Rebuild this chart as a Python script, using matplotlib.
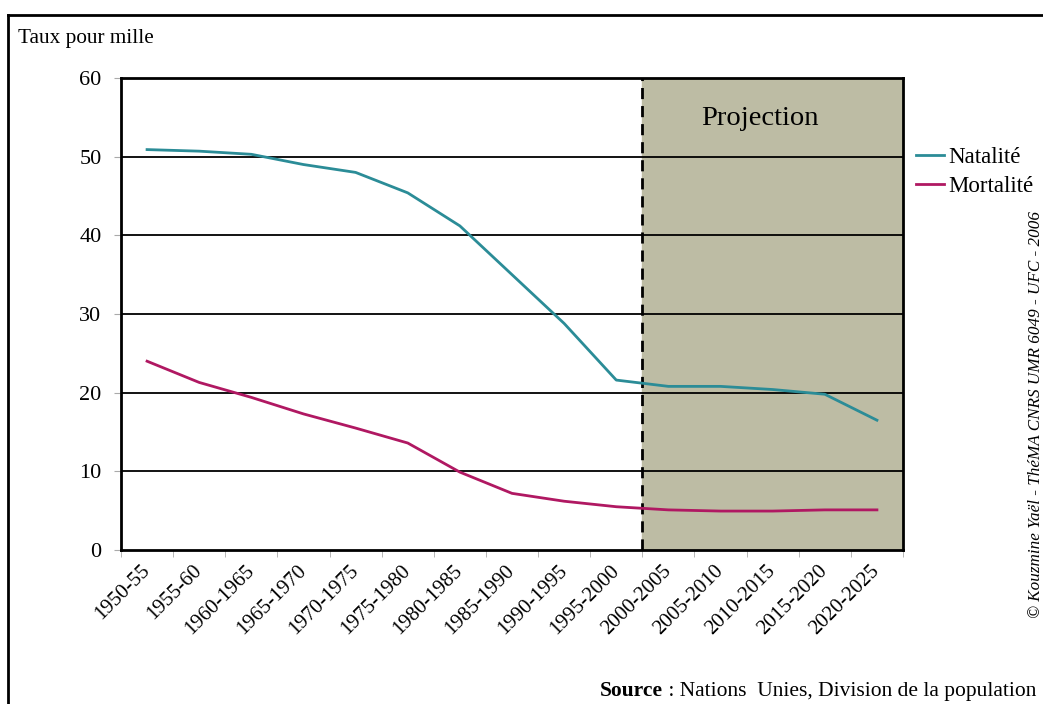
import matplotlib.pyplot as plt
from matplotlib.lines import Line2D

periodes = ["1950-55", "1955-60", "1960-1965", "1965-1970", "1970-1975",
            "1975-1980", "1980-1985", "1985-1990", "1990-1995", "1995-2000",
            "2000-2005", "2005-2010", "2010-2015", "2015-2020", "2020-2025"]
natalite = [50.9, 50.7, 50.3, 49.0, 48.0, 45.4, 41.2, 35.0, 28.8, 21.6,
            20.8, 20.8, 20.4, 19.8, 16.5]
mortalite = [24.0, 21.3, 19.4, 17.3, 15.5, 13.6, 9.9, 7.2, 6.2, 5.5,
             5.1, 4.95, 4.95, 5.1, 5.1]
debut_projection = 10

plt.rcParams['font.family'] = ['Liberation Serif', 'DejaVu Serif']

fig = plt.figure(figsize=(10.43, 7.04), dpi=100)
ax = fig.add_axes([121 / 1043, 1 - 550 / 704, 782 / 1043, 472 / 704])

n = len(periodes)
x = [i + 0.5 for i in range(n)]

# zone de projection
ax.axvspan(debut_projection, n, color="#bdbca4", zorder=0)
ax.axvline(debut_projection, color="black", lw=2, ls=(0, (4, 2.5)), zorder=3)

for yv in range(10, 60, 10):
    ax.axhline(yv, color="black", lw=1.3, zorder=1)

ax.plot(x, natalite, color="#2b8c97", lw=2, label="Natalité", zorder=4)
ax.plot(x, mortalite, color="#b01862", lw=2, label="Mortalité", zorder=4)

ax.set_xlim(0, n)
ax.set_ylim(0, 60)
ax.set_yticks(range(0, 70, 10))
ax.tick_params(axis="y", labelsize=16, length=5, color="#aaaaaa", pad=9)
ax.set_xticks(x)
ax.set_xticklabels(periodes, rotation=45, ha="right", va="center",
                   rotation_mode="anchor", fontsize=15)
ax.tick_params(axis="x", which="major", length=0, pad=13)
ax.set_xticks(range(n + 1), minor=True)
ax.tick_params(axis="x", which="minor", length=5, color="#aaaaaa")

for s in ax.spines.values():
    s.set_linewidth(2)
    s.set_zorder(5)

ax.text(12.25, 54.9, "Projection", fontsize=20.5, ha="center", va="center")

fig.legend(loc="center left", bbox_to_anchor=(905 / 1043, 1 - 172 / 704),
           frameon=False, fontsize=16.5, handlelength=1.2,
           handletextpad=0.2, labelspacing=0.38, borderpad=0)

fig.text(18 / 1043, 1 - 38 / 704, "Taux pour mille", fontsize=15.3, va="center")

src = fig.text(600 / 1043, 1 - 701 / 704, "Source", fontsize=15.5,
               fontweight="bold", ha="left", va="bottom")
ax.annotate(" : Nations  Unies, Division de la population", xy=(1, 0),
            xycoords=src, fontsize=15.5, ha="left", va="bottom",
            annotation_clip=False)

fig.text(1036 / 1043, 1 - 414 / 704,
         "© Kouzmine Yaël - ThéMA CNRS UMR 6049 - UFC - 2006",
         fontsize=12.3, style="italic", rotation=90, ha="center", va="center")

# cadre
fig.add_artist(Line2D([8 / 1043, 1.0], [1 - 15 / 704, 1 - 15 / 704],
                      color="black", lw=2))
fig.add_artist(Line2D([8 / 1043, 8 / 1043], [0, 1 - 15 / 704],
                      color="black", lw=2))

fig.savefig("out.png", dpi=100)
